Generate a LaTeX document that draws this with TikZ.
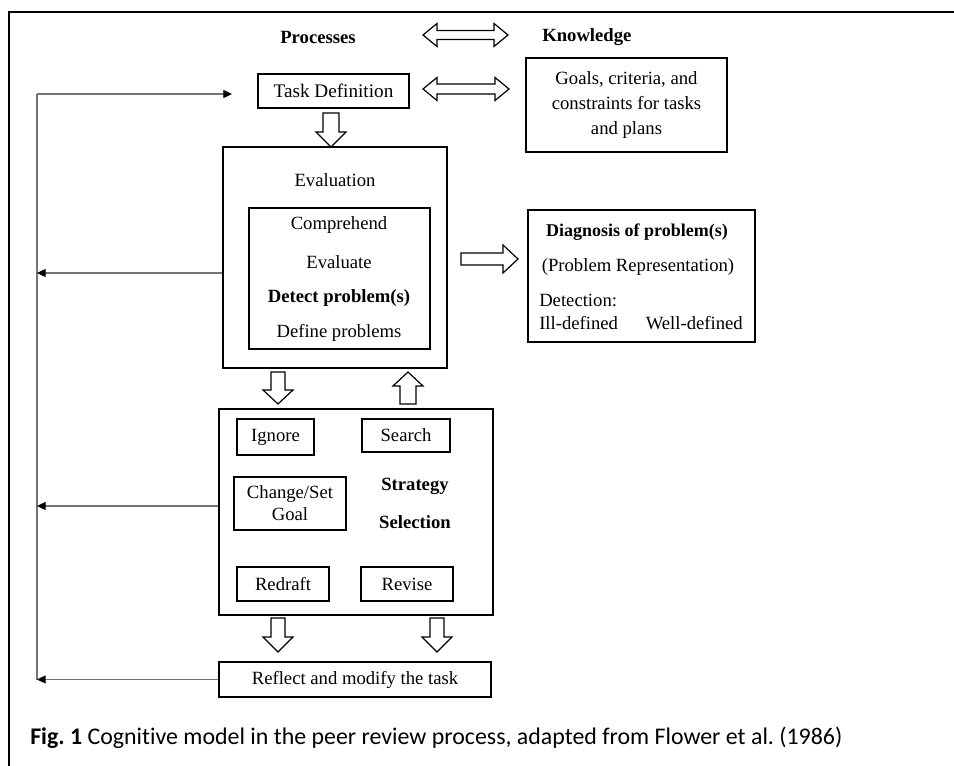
\documentclass[tikz,border=0pt]{standalone}
\usepackage{fontspec}
\setmainfont{Liberation Serif}
\newfontfamily\capfont[Ligatures=NoCommon]{Carlito}
\usetikzlibrary{arrows.meta}
\tikzset{
  blk/.style={draw=black, line width=0.9pt, line join=miter, fill=white},
  box/.style={draw=black, line width=1pt, inner sep=0pt, anchor=center},
  txt/.style={inner sep=0pt, anchor=center},
  fb/.style={draw=black!55, line width=0.9pt},
  fbarrow/.style={fb, -{Triangle[length=6.5pt,width=6pt,black]}},
  every node/.style={font=\fontsize{14pt}{17pt}\selectfont}
}
% vertical block arrow: cx, ytail, ytip, ybase, shafthalf, headhalf
\newcommand\vblock[6]{%
 \draw[blk] ({#1-#5},#2) -- ({#1+#5},#2) -- ({#1+#5},#4) -- ({#1+#6},#4) -- (#1,#3) -- ({#1-#6},#4) -- ({#1-#5},#4) -- cycle;}
% horizontal double block arrow: xl, xr, cy, headlen, shafthalf, headhalf
\newcommand\hdouble[6]{%
 \draw[blk] (#1,#3) -- ({#1+#4},{#3-#6}) -- ({#1+#4},{#3-#5}) -- ({#2-#4},{#3-#5}) -- ({#2-#4},{#3-#6}) -- (#2,#3) -- ({#2-#4},{#3+#6}) -- ({#2-#4},{#3+#5}) -- ({#1+#4},{#3+#5}) -- ({#1+#4},{#3+#6}) -- cycle;}
% horizontal right block arrow: xtail, xtip, xbase, cy, shafthalf, headhalf
\newcommand\hright[6]{%
 \draw[blk] (#1,{#4-#5}) -- (#3,{#4-#5}) -- (#3,{#4-#6}) -- (#2,#4) -- (#3,{#4+#6}) -- (#3,{#4+#5}) -- (#1,{#4+#5}) -- cycle;}
\begin{document}
\begin{tikzpicture}[x=0.75pt,y=-0.75pt]
\useasboundingbox (0,0) rectangle (954,766);
\fill[white] (0,0) rectangle (954,766);
% outer frame
\draw[line width=1.5pt] (9,770) -- (9,12) -- (958,12);

% headers
\node[txt, font=\fontsize{14pt}{17pt}\selectfont\bfseries] (proc) at (318,37) {Processes};
\node[txt, anchor=west, font=\fontsize{14pt}{17pt}\selectfont\bfseries] (know) at (542,37) {Knowledge};
\hdouble{423}{508}{35}{14}{4.5}{11.5}

% task definition
\node[box, minimum width=113.25pt, minimum height=25.5pt, font=\fontsize{14.4pt}{17pt}\selectfont] (task) at (333.5,91) {Task Definition};
\hdouble{423}{509}{89}{14}{5}{11.5}
\node[box, minimum width=150.75pt, minimum height=70.5pt, align=center,
      font=\fontsize{14pt}{18.5pt}\selectfont] (goals) at (626.5,105)
  {Goals, criteria, and\\constraints for tasks\\and plans};

% task -> evaluation
\vblock{331}{113}{147}{132}{8}{15}

% evaluation
\node[box, minimum width=168pt, minimum height=165.75pt] (evalo) at (335,257.5) {};
\node[txt] (evaltitle) at (335,180) {Evaluation};
\node[box, minimum width=135.75pt, minimum height=105.75pt] (evali) at (339.5,278.5) {};
\node[txt] (compr) at (339,225) {Comprehend};
\node[txt] (evalu) at (339,262) {Evaluate};
\node[txt, font=\fontsize{14pt}{17pt}\selectfont\bfseries] (detect) at (339,298) {Detect problem(s)};
\node[txt] (define) at (339,333) {Define problems};

% evaluation -> diagnosis
\hright{461}{518}{503}{259}{6}{14}

% diagnosis
\node[box, minimum width=170.25pt, minimum height=99pt] (diag) at (641.5,276) {};
\node[txt, font=\fontsize{13.5pt}{17pt}\selectfont\bfseries] (diagt) at (637,232) {Diagnosis of problem(s)};
\node[txt] (prep) at (638,267) {(Problem Representation)};
\node[txt, anchor=west] (detn) at (539,300) {Detection:};
\node[txt, anchor=west] (ill) at (539,323) {Ill-defined};
\node[txt, anchor=east] (well) at (743,323) {Well-defined};

% evaluation <-> strategy
\vblock{278}{372}{404}{390}{7}{15}
\vblock{408}{404}{372}{386}{8}{15}

% strategy selection
\node[box, minimum width=205.5pt, minimum height=154.5pt] (strat) at (356,512) {};
\node[box, minimum width=57.75pt, minimum height=27pt] (ignore) at (275.5,437) {Ignore};
\node[box, minimum width=66pt, minimum height=24.75pt] (search) at (406,435.5) {Search};
\node[box, minimum width=84pt, minimum height=39.75pt, align=center,
      font=\fontsize{14pt}{16.5pt}\selectfont] (change) at (290,503.5) {Change/Set\\Goal};
\node[txt, font=\fontsize{14pt}{17pt}\selectfont\bfseries] (stratt) at (415,486) {Strategy};
\node[txt, font=\fontsize{14pt}{17pt}\selectfont\bfseries] (selt) at (415,522) {Selection};
\node[box, minimum width=69pt, minimum height=25.5pt] (redraft) at (283,584) {Redraft};
\node[box, minimum width=69pt, minimum height=25.5pt] (revise) at (407,584) {Revise};

% strategy -> reflect
\vblock{278}{618}{652}{637}{7}{15}
\vblock{437}{618}{652}{637}{7}{15}

% reflect
\node[box, minimum width=204pt, minimum height=26.25pt] (reflect) at (355,679.5) {Reflect and modify the task};

% feedback loop
\coordinate (fbtop) at (37,94);
\coordinate (fb1) at (37,273);
\coordinate (fb2) at (37,506);
\coordinate (fb3) at (37,679.5);
\coordinate (tdin) at (232,94);
\draw[fb] (fb3) -- (fbtop);
\draw[fbarrow] (fbtop) -- (tdin);
\draw[fbarrow] (evalo.west |- fb1) -- (fb1);
\draw[fbarrow] (strat.west |- fb2) -- (fb2);
\draw[fbarrow] (reflect.west) -- (fb3);

% caption
\node[txt, anchor=west, font=\fontsize{17.9pt}{20pt}\capfont\frenchspacing] (cap) at (30,738)
  {\textbf{Fig. 1} Cognitive model in the peer review process, adapted from Flower et al. (1986)};
\end{tikzpicture}
\end{document}
